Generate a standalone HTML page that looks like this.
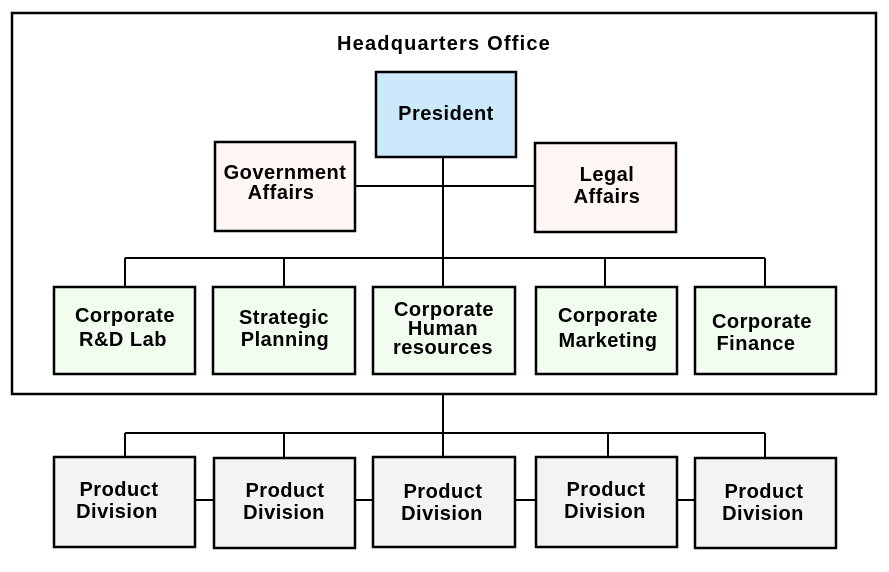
<!DOCTYPE html>
<html><head><meta charset="utf-8"><style>
html,body{margin:0;padding:0;background:#fff;}
svg{display:block;}
text{font-family:"Liberation Sans",Arial,sans-serif;font-weight:bold;font-size:20px;fill:#000;text-anchor:middle;letter-spacing:0.5px;}
</style></head><body>
<svg width="889" height="572" viewBox="0 0 889 572" xmlns="http://www.w3.org/2000/svg">
<g stroke="#000" stroke-width="2" fill="none">
<rect x="12" y="13" width="864" height="381" fill="#fff" stroke-width="2.5"/>
<line x1="443" y1="157" x2="443" y2="258"/>
<line x1="355" y1="186" x2="535" y2="186"/>
<line x1="125" y1="258" x2="765" y2="258"/>
<line x1="125" y1="258" x2="125" y2="287"/>
<line x1="284" y1="258" x2="284" y2="287"/>
<line x1="443" y1="258" x2="443" y2="287"/>
<line x1="605" y1="258" x2="605" y2="287"/>
<line x1="765" y1="258" x2="765" y2="287"/>
<line x1="443" y1="394" x2="443" y2="457"/>
<line x1="125" y1="433" x2="765" y2="433"/>
<line x1="125" y1="433" x2="125" y2="457"/>
<line x1="284" y1="433" x2="284" y2="458"/>
<line x1="443" y1="433" x2="443" y2="457"/>
<line x1="608" y1="433" x2="608" y2="457"/>
<line x1="765" y1="433" x2="765" y2="458"/>
<line x1="195" y1="500" x2="214" y2="500"/>
<line x1="355" y1="500" x2="373" y2="500"/>
<line x1="515" y1="500" x2="536" y2="500"/>
<line x1="677" y1="500" x2="695" y2="500"/>
</g>
<g stroke="#000" stroke-width="2.5">
<rect x="376" y="72" width="140" height="85" fill="#cce9fb"/>
<rect x="215" y="142" width="140" height="89" fill="#fdf6f3"/>
<rect x="535" y="143" width="141" height="89" fill="#fdf6f3"/>
<rect x="54" y="287" width="141" height="87" fill="#f1fdef"/>
<rect x="213" y="287" width="142" height="87" fill="#f1fdef"/>
<rect x="373" y="287" width="142" height="87" fill="#f1fdef"/>
<rect x="536" y="287" width="141" height="87" fill="#f1fdef"/>
<rect x="695" y="287" width="141" height="87" fill="#f1fdef"/>
<rect x="54" y="457" width="141" height="90" fill="#f3f3f3"/>
<rect x="214" y="458" width="141" height="90" fill="#f3f3f3"/>
<rect x="373" y="457" width="142" height="90" fill="#f3f3f3"/>
<rect x="536" y="457" width="141" height="90" fill="#f3f3f3"/>
<rect x="695" y="458" width="141" height="90" fill="#f3f3f3"/>
</g>
<text x="444" y="50" style="letter-spacing:1.2px">Headquarters Office</text>
<text x="446" y="120">President</text>
<text x="285" y="179">Government</text>
<text x="281" y="199">Affairs</text>
<text x="607" y="181">Legal</text>
<text x="607" y="203">Affairs</text>
<text x="125" y="322">Corporate</text>
<text x="123" y="346">R&amp;D Lab</text>
<text x="284" y="324">Strategic</text>
<text x="285" y="346">Planning</text>
<text x="444" y="316">Corporate</text>
<text x="443" y="335">Human</text>
<text x="443" y="354">resources</text>
<text x="608" y="322">Corporate</text>
<text x="608" y="347">Marketing</text>
<text x="762" y="328">Corporate</text>
<text x="756" y="350">Finance</text>
<text x="119" y="496">Product</text>
<text x="117" y="518">Division</text>
<text x="285" y="497">Product</text>
<text x="284" y="519">Division</text>
<text x="443" y="498">Product</text>
<text x="442" y="520">Division</text>
<text x="606" y="496">Product</text>
<text x="605" y="518">Division</text>
<text x="764" y="498">Product</text>
<text x="763" y="520">Division</text>
</svg>
</body></html>
